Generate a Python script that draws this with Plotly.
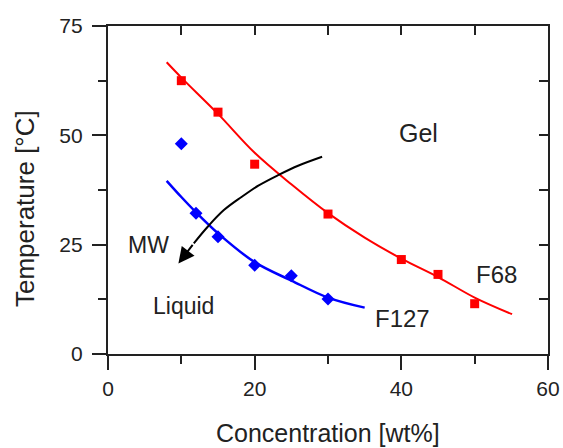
import plotly.graph_objects as go

# F68 (red squares) measured points
f68_x = [10, 15, 20, 30, 40, 45, 50]
f68_y = [62.5, 55.3, 43.4, 32.0, 21.6, 18.2, 11.5]
# F68 fitted curve
f68_fit_x = [8, 10, 15, 20, 25, 30, 35, 40, 45, 50, 55.1]
f68_fit_y = [66.7, 63.2, 54.9, 46.0, 38.8, 32.2, 26.6, 21.8, 17.6, 12.9, 9.1]

# F127 (blue diamonds) measured points
f127_x = [10, 12, 15, 20, 25, 30]
f127_y = [48.1, 32.2, 26.8, 20.3, 17.9, 12.6]
# F127 fitted curve
f127_fit_x = [8, 10, 12, 15, 20, 25, 30, 35]
f127_fit_y = [39.6, 35.9, 32.4, 27.6, 21.0, 16.8, 12.9, 10.6]

# MW arrow path
mw_x = [29.2, 26.0, 23.2, 20.5, 18.2, 15.8, 13.6, 11.7]
mw_y = [45.1, 43.1, 40.9, 38.5, 35.9, 32.9, 29.1, 25.3]
mw_tip = (9.6, 20.7)

# Text labels
labels = ["Gel", "MW", "Liquid", "F68", "F127"]
label_x = [42.3, 5.5, 10.3, 53.0, 40.1]
label_y = [50.5, 24.9, 11.0, 18.1, 8.2]
label_size = [25, 23, 23, 24, 24]

FONT = "Liberation Sans, Arial, sans-serif"
INK = "#222222"

fig = go.Figure()
fig.add_trace(go.Scatter(x=f68_fit_x, y=f68_fit_y, mode="lines",
                         line=dict(color="#ff0000", width=2, shape="spline"),
                         showlegend=False, hoverinfo="skip"))
fig.add_trace(go.Scatter(x=f127_fit_x, y=f127_fit_y, mode="lines",
                         line=dict(color="#0000ff", width=2.5, shape="spline"),
                         showlegend=False, hoverinfo="skip"))
fig.add_trace(go.Scatter(x=f68_x, y=f68_y, mode="markers",
                         marker=dict(symbol="square", size=9, color="#ff0000"),
                         showlegend=False))
fig.add_trace(go.Scatter(x=f127_x, y=f127_y, mode="markers",
                         marker=dict(symbol="diamond", size=10, color="#0000ff"),
                         showlegend=False))
fig.add_trace(go.Scatter(x=mw_x, y=mw_y, mode="lines",
                         line=dict(color="#000000", width=2, shape="spline",
                                   smoothing=1.0),
                         showlegend=False, hoverinfo="skip"))

fig.add_annotation(x=mw_tip[0], y=mw_tip[1], ax=mw_x[-1], ay=mw_y[-1],
                   xref="x", yref="y", axref="x", ayref="y",
                   showarrow=True, arrowhead=2, arrowsize=1.6, arrowwidth=2,
                   arrowcolor="#000000", text="")

for t, lx, ly, s in zip(labels, label_x, label_y, label_size):
    fig.add_annotation(x=lx, y=ly, xref="x", yref="y", text=t, showarrow=False,
                       xanchor="center", yanchor="middle",
                       font=dict(family=FONT, size=s, color=INK))

# Axis titles
fig.add_annotation(x=0.5, y=-0.241, xref="paper", yref="paper",
                   xanchor="center", yanchor="middle",
                   text="Concentration [wt%]", showarrow=False,
                   font=dict(family=FONT, size=25, color=INK))
fig.add_annotation(x=-0.1886, y=0.442, xref="paper", yref="paper",
                   xanchor="center", yanchor="middle",
                   text="Temperature [°C]", showarrow=False, textangle=-90,
                   font=dict(family=FONT, size=26, color=INK))

axis_common = dict(showline=True, linecolor=INK, linewidth=2.2,
                   tickcolor=INK, tickwidth=2, showgrid=False,
                   zeroline=False, mirror=False)

fig.update_layout(
    width=563, height=448,
    margin=dict(l=108, r=15, t=26, b=94, autoexpand=False),
    paper_bgcolor="white", plot_bgcolor="white",
    font=dict(family=FONT, size=21, color=INK),
    xaxis=dict(range=[0, 60], tickvals=[0, 20, 40, 60], ticks="outside",
               ticklen=14, tickfont=dict(size=21), ticklabelstandoff=1,
               minor=dict(tickvals=[10, 30, 50], ticks="outside", ticklen=8,
                          tickwidth=2, tickcolor=INK),
               **axis_common),
    yaxis=dict(range=[0, 75], tickvals=[0, 25, 50, 75], ticks="outside",
               ticklen=14, tickfont=dict(size=21), ticklabelstandoff=5,
               minor=dict(tickvals=[12.5, 37.5, 62.5], ticks="outside", ticklen=8,
                          tickwidth=2, tickcolor=INK),
               **axis_common),
    xaxis2=dict(range=[0, 60], overlaying="x", side="top", anchor="y",
                tickvals=[10, 20, 30, 40, 50], ticks="inside", ticklen=9,
                showticklabels=False, **axis_common),
    yaxis2=dict(range=[0, 75], overlaying="y", side="right", anchor="x",
                tickvals=[12.5, 25, 37.5, 50, 62.5], ticks="inside", ticklen=9,
                showticklabels=False, **axis_common),
)
# dummy trace to activate the mirrored axes
fig.add_trace(go.Scatter(x=[None], y=[None], xaxis="x2", yaxis="y2",
                         showlegend=False, hoverinfo="skip"))

fig.write_html("out.html",
               config={"displayModeBar": False},
               post_script="document.body.style.margin='0';"
                           "document.body.style.overflow='hidden';")
